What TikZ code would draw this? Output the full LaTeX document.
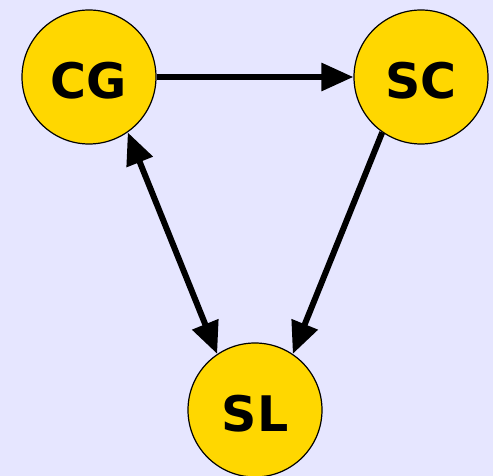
\documentclass[tikz,border=0pt]{standalone}
\usepackage{fontspec}
\newfontfamily\labelfont{DejaVu Sans}
\usetikzlibrary{positioning, arrows.meta}
\definecolor{bgcol}{HTML}{E6E6FF}
\definecolor{nodecol}{HTML}{FFD700}

\begin{document}
\begin{tikzpicture}[x=1pt, y=1pt, node distance=1pt, on grid,
    state/.style={circle, draw=black, line width=1.2pt, fill=nodecol, inner sep=0pt, minimum size=134pt, text height=44pt, font=\labelfont\bfseries\fontsize{49}{55}\selectfont},
    msg/.style={line width=6pt, -{Triangle[length=32pt, width=27pt]}},
    both/.style={line width=6pt, {Triangle[length=32pt, width=27pt]}-{Triangle[length=32pt, width=27pt]}}]
    \fill[bgcol] (-89,-399) rectangle (404,77);
    \useasboundingbox (-89,-399) rectangle (404,77);

    \node[state] (CG) {CG};
    \node[state, right=332pt of CG] (SC) {SC};
    \node[state, below right=333pt and 166pt of CG] (SL) {SL};

    \path
        (CG) edge[msg] (SC)
        (SC.235) edge[msg] (SL.56)
        (CG.305) edge[both] (SL.124)
        ;
\end{tikzpicture}
\end{document}
